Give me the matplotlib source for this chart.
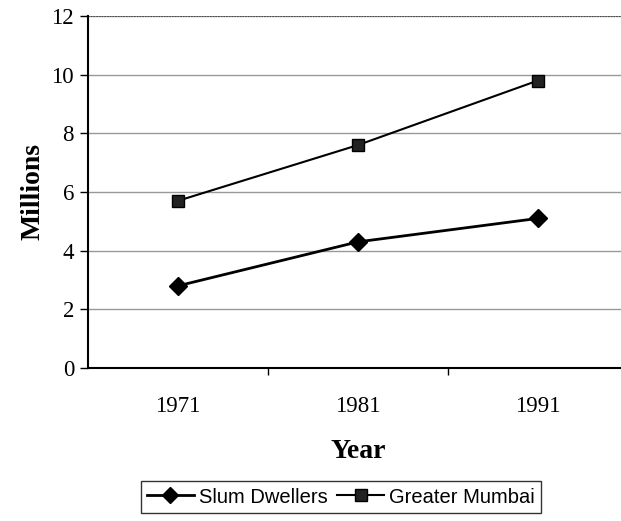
import matplotlib.pyplot as plt
import numpy as np

# === DATA ===
years = ["1971", "1981", "1991"]
slum_dwellers = [2.8, 4.3, 5.1]
greater_mumbai = [5.7, 7.6, 9.8]

serif = "Liberation Serif"
sans = "Liberation Sans"

fig = plt.figure(figsize=(6.21, 5.21), dpi=100)
# right edge of the plot area runs past the picture, as in the original scan
ax = fig.add_axes([0.1417, 0.2937, 0.8696, 0.6756])

x = np.arange(len(years))
ax.plot(x, slum_dwellers, color="black", lw=2.0, marker="D", ms=9,
        label="Slum Dwellers")
ax.plot(x, greater_mumbai, color="black", lw=1.5, marker="s", ms=9,
        markerfacecolor="#222222", label="Greater Mumbai")

ax.set_xlim(-0.5, 2.5)
ax.set_ylim(0, 12)
ax.set_yticks(range(0, 13, 2))
ax.set_xticks(x)
ax.set_xticklabels(years)
ax.set_xticks([0.5, 1.5], minor=True)
ax.tick_params(axis="x", which="major", length=0, pad=20)
ax.tick_params(axis="x", which="minor", length=5, width=1, direction="out")
ax.tick_params(axis="y", length=6, width=1, direction="out", pad=4)
for lab in ax.get_xticklabels() + ax.get_yticklabels():
    lab.set_fontfamily(serif)
    lab.set_fontsize(16.5)

ax.grid(axis="y", color="#999999", lw=1.0)
ax.axhline(12, color="#444444", lw=1.3, ls=(0, (1, 0.5)))
ax.set_axisbelow(True)
for side in ["top", "right"]:
    ax.spines[side].set_visible(False)
ax.spines["left"].set_linewidth(1.5)
ax.spines["bottom"].set_linewidth(1.5)

ax.set_ylabel("Millions", fontfamily=serif, fontsize=20, fontweight="bold",
              labelpad=4)
ax.set_xlabel("Year", fontfamily=serif, fontsize=20, fontweight="bold",
              labelpad=16)

leg = fig.legend(loc="center", bbox_to_anchor=(0.549, 0.046), ncol=2,
                 prop={"family": sans, "size": 14.5}, frameon=True,
                 fancybox=False, edgecolor="black", handlelength=2.3,
                 columnspacing=0.5, handletextpad=0.25, borderpad=0.3,
                 markerscale=0.9)
leg.get_frame().set_linewidth(1.0)

plt.savefig("out.png", dpi=100)
